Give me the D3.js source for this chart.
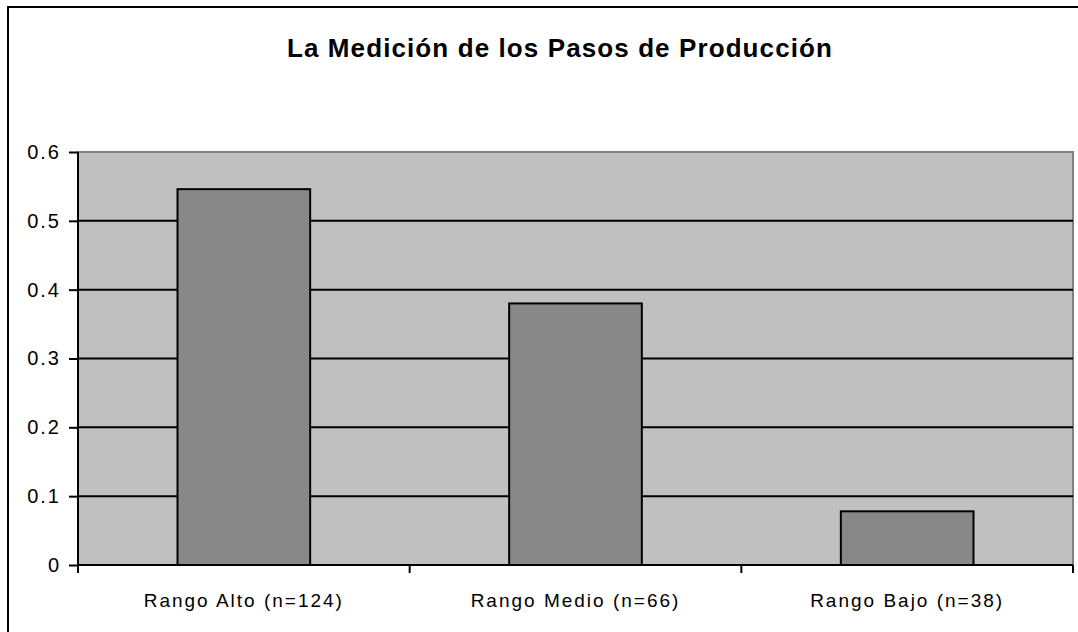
<!DOCTYPE html>
<html>
<head>
<meta charset="utf-8">
<script src="https://cdn.jsdelivr.net/npm/d3@7"></script>
<style>
  body { margin: 0; background: #fff; }
  text { font-family: "Liberation Sans", Arial, sans-serif; fill: #000; }
</style>
</head>
<body>
<svg width="1078" height="632"></svg>
<script>
const title = 'La Medición de los Pasos de Producción';
const categories = ['Rango Alto (n=124)', 'Rango Medio (n=66)', 'Rango Bajo (n=38)'];
const values = [0.546, 0.38, 0.078];
const yTicks = [0, 0.1, 0.2, 0.3, 0.4, 0.5, 0.6];

var margin = {top: 152, right: 5, bottom: 67, left: 78},
    width = 1078 - margin.left - margin.right,
    height = 632 - margin.top - margin.bottom;

const svg = d3.select('svg');

// outer chart border (cut off at right and bottom like the reference)
svg.append('rect')
    .attr('x', 8).attr('y', 7)
    .attr('width', 1100).attr('height', 700)
    .attr('fill', '#fff')
    .attr('stroke', '#000')
    .attr('stroke-width', 2);

svg.append('text')
    .attr('x', 560)
    .attr('y', 57)
    .attr('text-anchor', 'middle')
    .style('font-size', '26px')
    .style('font-weight', 'bold')
    .style('letter-spacing', '1.1px')
    .text(title);

const g = svg.append('g')
    .attr('transform', `translate(${margin.left},${margin.top})`);

const xScale = d3.scaleBand()
    .domain(categories)
    .range([0, width])
    .paddingInner(0.6)
    .paddingOuter(0.3);

// band boundaries for the category ticks
const step = width / categories.length;

const yScale = d3.scaleLinear()
    .domain([0, 0.6])
    .range([height, 0]);

// plot area
g.append('rect')
    .attr('width', width)
    .attr('height', height)
    .attr('fill', '#c0c0c0')
    .attr('stroke', '#808080')
    .attr('stroke-width', 2);

// gridlines
g.selectAll('.grid')
    .data(yTicks.filter(d => d > 0 && d < 0.6))
    .enter().append('line')
    .attr('class', 'grid')
    .attr('x1', 0).attr('x2', width)
    .attr('y1', d => yScale(d)).attr('y2', d => yScale(d))
    .attr('stroke', '#000')
    .attr('stroke-width', 2);

// bars
g.selectAll('.bar')
    .data(values)
    .enter().append('rect')
    .attr('class', 'bar')
    .attr('x', (d, i) => xScale(categories[i]))
    .attr('y', d => yScale(d))
    .attr('width', xScale.bandwidth())
    .attr('height', d => height - yScale(d))
    .attr('fill', '#888888')
    .attr('stroke', '#000')
    .attr('stroke-width', 2);

// y axis
const yAxis = d3.axisLeft(yScale)
    .tickValues(yTicks)
    .tickFormat(d => d === 0 ? '0' : d3.format('.1f')(d))
    .tickSize(9)
    .tickPadding(8);

const yAxisG = g.append('g').call(yAxis);
yAxisG.select('.domain').attr('stroke', '#000').attr('stroke-width', 2)
    .attr('d', `M0,0V${height + 8}`);
yAxisG.selectAll('.tick line').attr('stroke', '#000').attr('stroke-width', 2);
yAxisG.selectAll('.tick text')
    .style('font-size', '20px')
    .style('letter-spacing', '2px')
    .attr('font-family', null);

// x axis
const xAxisG = g.append('g')
    .attr('transform', `translate(0,${height})`);

xAxisG.append('line')
    .attr('x1', 0).attr('x2', width)
    .attr('stroke', '#000').attr('stroke-width', 2);

xAxisG.selectAll('.xtick')
    .data(d3.range(categories.length + 1))
    .enter().append('line')
    .attr('class', 'xtick')
    .attr('x1', d => d * step).attr('x2', d => d * step)
    .attr('y1', 0).attr('y2', 8)
    .attr('stroke', '#000').attr('stroke-width', 2);

xAxisG.selectAll('.xlabel')
    .data(categories)
    .enter().append('text')
    .attr('class', 'xlabel')
    .attr('x', d => xScale(d) + xScale.bandwidth() / 2)
    .attr('y', 42)
    .attr('text-anchor', 'middle')
    .style('font-size', '19px')
    .style('letter-spacing', '2px')
    .text(d => d);
</script>
</body>
</html>
